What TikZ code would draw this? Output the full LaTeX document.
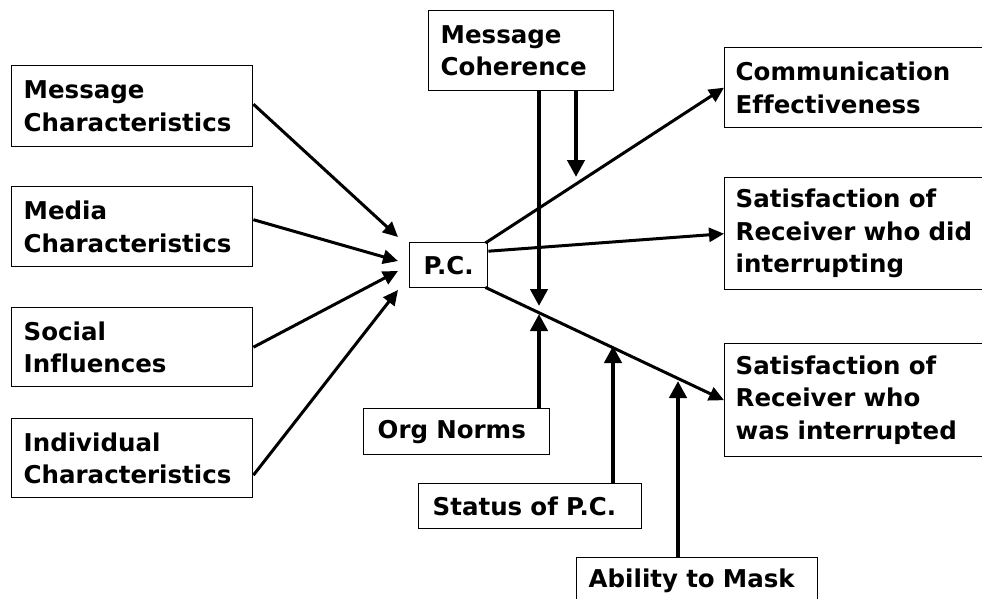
\documentclass[tikz,border=0pt]{standalone}
\usepackage{fontspec}
\setmainfont{DejaVu Sans}[Ligatures=CommonOff]
\usetikzlibrary{arrows.meta}
\begin{document}
\begin{tikzpicture}[x=1pt, y=-1pt,
  box/.style={draw, line width=1.4pt, anchor=north west, inner xsep=12pt, inner ysep=0pt,
    align=left, font=\bfseries\fontsize{24.5}{32.5}\selectfont},
  link/.style={line width=3pt, -{Triangle[length=15pt,width=14pt]}},
  moderator/.style={line width=4.5pt, -{Triangle[length=17pt,width=17pt]}}]
\useasboundingbox (0,0) rectangle (982,598);
\clip (0,0) rectangle (982,598);
\fill[white] (0,0) rectangle (982,598);

% antecedents
\node[box, text width=217pt, minimum height=81pt] (msg) at (11,65) {Message\\Characteristics};
\node[box, text width=217pt, minimum height=80pt] (media) at (11,186) {Media\\Characteristics};
\node[box, text width=217pt, minimum height=79pt] (social) at (11,307) {Social\\Influences};
\node[box, text width=217pt, minimum height=79pt] (indiv) at (11,418) {Individual\\Characteristics};

% central construct
\node[box, align=center, inner xsep=0pt, minimum width=78pt, minimum height=45pt] (pc) at (409,242) {P.C.};

% moderators
\node[box, text width=161pt, minimum height=80pt] (coh) at (428,10) {Message\\Coherence};
\node[box, text width=158pt, minimum height=46pt, inner xsep=14pt] (norms) at (363,408) {Org Norms};
\node[box, text width=195pt, minimum height=45pt, inner xsep=14pt] (status) at (418,483) {Status of P.C.};
\node[box, text width=217pt, minimum height=46pt] (mask) at (576,557) {Ability to Mask};

% outcomes
\node[box, text width=250pt, minimum height=80pt, inner xsep=11pt] (eff) at (724,47) {Communication\\Effectiveness};
\node[box, text width=250pt, minimum height=112pt, inner xsep=11pt] (sat1) at (724,177) {Satisfaction of\\Receiver who did\\interrupting};
\node[box, text width=250pt, minimum height=113pt, inner xsep=11pt] (sat2) at (724,343) {Satisfaction of\\Receiver who\\was interrupted};

% arrow tips ending short of P.C.
\coordinate (inA) at (398,237);
\coordinate (inB) at (398,261);
\coordinate (inC) at (398,271);
\coordinate (inD) at (398,290);

\draw[link] ([yshift=2pt]msg.east) -- (inA);
\draw[link] ([yshift=7pt]media.east) -- (inB);
\draw[link] (social.east) -- (inC);
\draw[link] ([yshift=-17pt]indiv.east) -- (inD);

% paths out of P.C.
\draw[link] ([xshift=-3pt,yshift=-1pt]pc.north east) -- (eff.west);
\draw[link] ([yshift=14pt]pc.east) -- (sat1.west);
\draw[link] ([xshift=-3pt,yshift=1pt]pc.south east) -- (sat2.west);

% moderating arrows landing on the paths
\coordinate (cohA) at (539,306);
\coordinate (cohB) at (576,177);
\coordinate (normT) at (539,314);
\coordinate (statT) at (613,346);
\coordinate (maskT) at (678,381);

\draw[moderator] (coh.south -| cohA) -- (cohA);
\draw[moderator] (coh.south -| cohB) -- (cohB);
\draw[moderator] (norms.north -| normT) -- (normT);
\draw[moderator] (status.north -| statT) -- (statT);
\draw[moderator] (mask.north -| maskT) -- (maskT);
\end{tikzpicture}
\end{document}
